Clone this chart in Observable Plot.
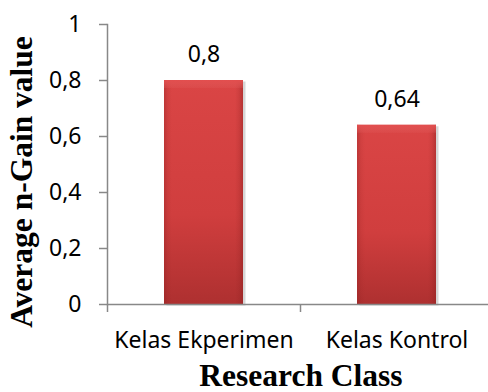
<!DOCTYPE html>
<html><head><meta charset="utf-8">
<script src="https://cdn.jsdelivr.net/npm/d3@7"></script>
<script src="https://cdn.jsdelivr.net/npm/@observablehq/plot@0.6"></script>
<style>body{margin:0;background:#fff}</style>
</head><body><div id="chart"></div>
<script>
const categories = ["Kelas Ekperimen", "Kelas Kontrol"];
const values = [0.8, 0.64];
const valueLabels = ["0,8", "0,64"];
const yTicks = [0, 0.2, 0.4, 0.6, 0.8, 1];
const yTickLabels = ["0", "0,2", "0,4", "0,6", "0,8", "1"];
const xTitle = "Research Class";
const yTitle = "Average n-Gain value";

const data = categories.map((c, i) => ({category: c, value: values[i], label: valueLabels[i]}));

const W = 488, H = 392;
const xRange = [107, 493];
const step = (xRange[1] - xRange[0]) / categories.length;
const axisGray = "#888888";
const sans = "Noto Sans";
const serif = "Liberation Serif";

const plot = Plot.plot({
  width: W, height: H,
  marginLeft: 107, marginRight: 0, marginTop: 24, marginBottom: 88,
  style: {fontFamily: sans, background: "#fff", overflow: "visible"},
  x: {domain: categories, range: xRange, paddingInner: 0.59, paddingOuter: 0.295, label: null},
  y: {domain: [0, 1], label: null},
  marks: [
    Plot.barY(data, {x: "category", y: "value", fill: "#000", fillOpacity: 0.16, dx: 2.5, dy: 1.5}),
    Plot.barY(data, {x: "category", y: "value", fill: "url(#vg)"}),
    Plot.barY(data, {x: "category", y: "value", fill: "url(#hg)"}),
    Plot.barY(data, {x: "category", y1: "value", y2: "value", insetBottom: -8, fill: "url(#tg)"}),
    Plot.frame({anchor: "left", stroke: axisGray, strokeWidth: 1.5}),
    Plot.ruleY([0], {stroke: axisGray, strokeWidth: 1.5}),
    Plot.axisY({ticks: yTicks, tickFormat: d => yTickLabels[yTicks.indexOf(d)], tickSize: 8, tickPadding: 18,
      fontSize: 23, stroke: axisGray, fill: "#000", strokeWidth: 1.5, label: null}),
    Plot.axisX({tickSize: 8, tickFormat: () => "", dx: -step / 2, stroke: axisGray, strokeWidth: 1.5, label: null}),
    Plot.axisX({tickSize: 0, tickPadding: 27, fontSize: 23, fill: "#000", label: null}),
    Plot.text(data, {x: "category", y: "value", text: "label", dy: -26, fontSize: 23, fill: "#000"}),
    Plot.text([yTitle], {text: d => d, frameAnchor: "left", textAnchor: "middle", lineAnchor: "middle",
      rotate: -90, dx: -86, dy: 17.5,
      fontSize: 31.5, fontFamily: serif, fontWeight: "bold", fill: "#000"}),
    Plot.text([xTitle], {text: d => d, frameAnchor: "bottom", textAnchor: "middle", lineAnchor: "middle",
      dx: 3, dy: 71,
      fontSize: 31.5, fontFamily: serif, fontWeight: "bold", fill: "#000"})
  ]
});

const ns = "http://www.w3.org/2000/svg";
const defs = document.createElementNS(ns, "defs");
defs.innerHTML = `
  <linearGradient id="vg" x1="0" y1="0" x2="0" y2="1">
    <stop offset="0" stop-color="#DA4545"/>
    <stop offset="0.6" stop-color="#D03E3E"/>
    <stop offset="1" stop-color="#AE3030"/>
  </linearGradient>
  <linearGradient id="hg" x1="0" y1="0" x2="1" y2="0">
    <stop offset="0" stop-color="#8a1f1f" stop-opacity="0.35"/>
    <stop offset="0.05" stop-color="#8a1f1f" stop-opacity="0.1"/>
    <stop offset="0.1" stop-color="#8a1f1f" stop-opacity="0"/>
    <stop offset="0.9" stop-color="#8a1f1f" stop-opacity="0"/>
    <stop offset="0.95" stop-color="#8a1f1f" stop-opacity="0.15"/>
    <stop offset="1" stop-color="#8a1f1f" stop-opacity="0.45"/>
  </linearGradient>
  <linearGradient id="tg" x1="0" y1="0" x2="0" y2="1">
    <stop offset="0" stop-color="#E24E4E"/>
    <stop offset="1" stop-color="#E05A5A" stop-opacity="0.25"/>
  </linearGradient>`;
plot.insertBefore(defs, plot.firstChild);
document.getElementById("chart").appendChild(plot);
</script>
</body></html>
